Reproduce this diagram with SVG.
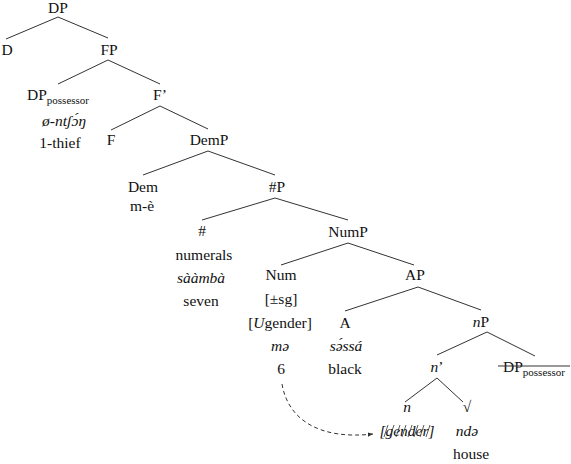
<svg xmlns="http://www.w3.org/2000/svg" width="571" height="464" viewBox="0 0 571 464" font-family="Liberation Serif, DejaVu Serif, serif">
<defs>
<style>
text{font-size:15.5px;fill:#111;text-anchor:middle}
.i{font-style:italic}
.sub{font-size:11px}
.e line{stroke:#333;stroke-width:1}
.h line{stroke:#333;stroke-width:0.8}
</style>
<marker id="ah" viewBox="0 0 8 8" refX="7" refY="4" markerWidth="6" markerHeight="6" orient="auto">
<path d="M0,1 L7,4 L0,7 z" fill="#333"/>
</marker>
</defs>
<rect width="571" height="464" fill="#fff"/>
<g id="edges" class="e">
<line x1="58" y1="17" x2="6" y2="39"/>
<line x1="58" y1="17" x2="108" y2="38"/>
<line x1="108" y1="60" x2="58" y2="84"/>
<line x1="108" y1="60" x2="160" y2="84"/>
<line x1="160" y1="106" x2="111" y2="130"/>
<line x1="160" y1="106" x2="208" y2="129"/>
<line x1="208" y1="151" x2="143" y2="175"/>
<line x1="208" y1="151" x2="275" y2="175"/>
<line x1="275" y1="198" x2="202" y2="220"/>
<line x1="275" y1="198" x2="348" y2="220"/>
<line x1="348" y1="243" x2="281" y2="265"/>
<line x1="348" y1="243" x2="414" y2="265"/>
<line x1="418" y1="287" x2="345" y2="311"/>
<line x1="418" y1="287" x2="481" y2="310"/>
<line x1="487" y1="332" x2="437" y2="355"/>
<line x1="487" y1="332" x2="535" y2="356"/>
<line x1="437" y1="378" x2="405" y2="402"/>
<line x1="437" y1="378" x2="463" y2="402"/>
<path d="M282,384 C288,420 320,440 373,434" fill="none" stroke="#333" stroke-width="1" stroke-dasharray="4,3" marker-end="url(#ah)"/>
</g>
<g id="DP"><text x="58" y="13">DP</text></g>
<g id="D"><text x="7" y="55">D</text></g>
<g id="FP"><text x="109" y="55">FP</text></g>
<g id="DPposs"><text x="58" y="100">DP<tspan class="sub" dy="4">possessor</tspan></text>
<text x="64" y="126" class="i">ø-ntʃɔ́ŋ</text>
<text x="60" y="148">1-thief</text></g>
<g id="Fbar"><text x="160" y="100">F’</text></g>
<g id="F"><text x="111" y="145">F</text></g>
<g id="DemP"><text x="209" y="145">DemP</text></g>
<g id="Dem"><text x="143" y="192">Dem</text><text x="142" y="211">m-è</text></g>
<g id="HashP"><text x="277" y="192">#P</text></g>
<g id="Hash"><text x="202" y="236">#</text><text x="204" y="260">numerals</text><text x="201" y="283" class="i">sààmbà</text><text x="201" y="306">seven</text></g>
<g id="NumP"><text x="348" y="237">NumP</text></g>
<g id="Num"><text x="281" y="280">Num</text><text x="281" y="304">[±sg]</text><text x="280" y="328">[<tspan class="i">U</tspan>gender]</text><text x="280" y="351" class="i">mə</text><text x="281" y="374">6</text></g>
<g id="AP"><text x="415" y="280">AP</text></g>
<g id="A"><text x="345" y="328">A</text><text x="346" y="351" class="i">sə́ssá</text><text x="345" y="374">black</text></g>
<g id="nP"><text x="481" y="327"><tspan class="i">n</tspan>P</text></g>
<g id="nbar"><text x="437" y="372"><tspan class="i">n</tspan>’</text></g>
<g id="DPposs2"><text x="534" y="372">DP<tspan class="sub" dy="4">possessor</tspan></text><line x1="498" y1="366" x2="570" y2="366" stroke="#333" stroke-width="1"/></g>
<g id="n"><text x="407" y="412" class="i">n</text><text x="407" y="436" class="i">[gender]</text>
<g class="h"><line x1="384" y1="437" x2="388" y2="425"/><line x1="390" y1="437" x2="394" y2="425"/><line x1="396" y1="437" x2="400" y2="425"/><line x1="402" y1="437" x2="406" y2="425"/><line x1="408" y1="437" x2="412" y2="425"/><line x1="414" y1="437" x2="418" y2="425"/><line x1="420" y1="437" x2="424" y2="425"/><line x1="426" y1="437" x2="430" y2="425"/></g></g>
<g id="root"><text x="467" y="412">√</text><text x="467" y="436" class="i">ndə</text><text x="471" y="459">house</text></g>
</svg>
